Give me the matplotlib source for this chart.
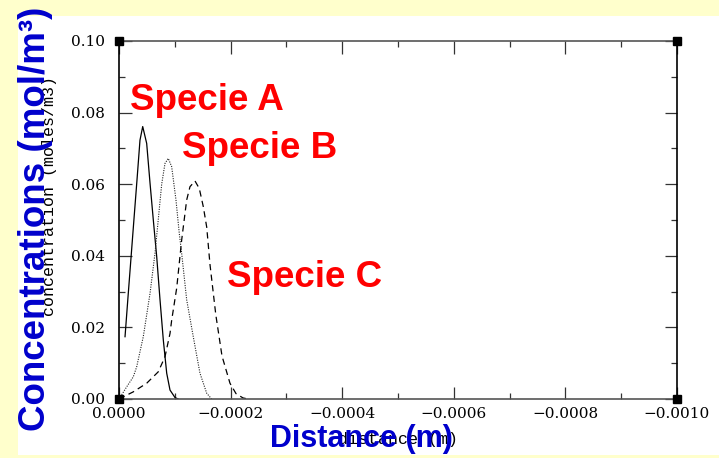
import matplotlib
matplotlib.use("Agg")
import matplotlib.pyplot as plt
from matplotlib.patches import Rectangle
from matplotlib.ticker import MultipleLocator, FuncFormatter

# ---------------------------------------------------------------------------
# Data (distance in m, concentration in mol/m3)
# ---------------------------------------------------------------------------
dist_a = [-1.08e-5, -1.61e-5, -2.15e-5, -2.69e-5, -3.23e-5, -3.76e-5, -4.25e-5,
          -4.96e-5, -5.56e-5, -6.15e-5, -6.76e-5, -7.35e-5, -7.94e-5, -8.55e-5,
          -9.14e-5, -1.004e-4, -1.06e-4]
conc_a = [0.0174, 0.0284, 0.0394, 0.0504, 0.0613, 0.0723, 0.0761,
          0.0714, 0.0603, 0.0500, 0.0397, 0.0277, 0.0165, 0.0072,
          0.0025, 0.0004, 0.0]

dist_b = [0.0, -1.38e-5, -2.56e-5, -3.17e-5, -4.35e-5, -5.56e-5, -6.45e-5,
          -7.65e-5, -8.24e-5, -8.83e-5, -9.44e-5, -1.021e-4, -1.080e-4,
          -1.123e-4, -1.213e-4, -1.331e-4, -1.451e-4, -1.572e-4, -1.661e-4]
conc_b = [0.0, 0.0034, 0.0062, 0.0090, 0.0174, 0.0295, 0.0407,
          0.0600, 0.0658, 0.0672, 0.0649, 0.0556, 0.0463,
          0.0407, 0.0277, 0.0174, 0.0072, 0.0016, 0.0]

dist_c = [0.0, -2.56e-5, -4.96e-5, -7.04e-5, -8.24e-5, -9.14e-5, -9.44e-5,
          -1.034e-4, -1.123e-4, -1.213e-4, -1.272e-4, -1.362e-4, -1.439e-4,
          -1.511e-4, -1.572e-4, -1.631e-4, -1.735e-4, -1.846e-4, -1.989e-4,
          -2.097e-4, -2.222e-4, -2.312e-4]
conc_c = [0.0, 0.0020, 0.0044, 0.0076, 0.0118, 0.0183, 0.0220,
          0.0310, 0.0444, 0.0556, 0.0593, 0.0609, 0.0588,
          0.0537, 0.0480, 0.0375, 0.0235, 0.0120, 0.0044,
          0.0015, 0.0003, 0.0]

x_ticks = [0.0, -0.0002, -0.0004, -0.0006, -0.0008, -0.0010]
y_ticks = [0.00, 0.02, 0.04, 0.06, 0.08, 0.10]
species = ["Specie A", "Specie B", "Specie C"]

W, H = 719, 458
YELLOW = "#FFFFCC"
BLUE = "#0000CC"

fig = plt.figure(figsize=(W / 100, H / 100), dpi=100, facecolor=YELLOW)
fig.patches.append(Rectangle((18 / W, 3 / H), 701 / W, 439 / H,
                             transform=fig.transFigure, facecolor="white",
                             edgecolor="none", zorder=-5))

ax = fig.add_axes([119 / W, 59 / H, 558 / W, 358 / H])
ax.set_facecolor("white")

ax.plot(dist_a, conc_a, color="black", lw=0.9, ls="-")
ax.plot(dist_b, conc_b, color="#222222", lw=0.8, ls=(0, (1, 1.2)))
ax.plot(dist_c, conc_c, color="black", lw=0.9, ls=(0, (5, 3.5)))

# black squares at the corners of the frame
ax.plot([0, 0, -0.001, -0.001], [0, 0.1, 0.1, 0], "s", color="black",
        ms=5.5, clip_on=False, zorder=5)

ax.set_xlim(0, -0.001)
ax.set_ylim(0, 0.1)
ax.set_xticks(x_ticks)
ax.set_yticks(y_ticks)
ax.xaxis.set_minor_locator(MultipleLocator(0.0001))
ax.yaxis.set_minor_locator(MultipleLocator(0.01))
ax.xaxis.set_major_formatter(FuncFormatter(
    lambda v, p: ("%.4f" % v).replace("-", "\u2212") if abs(v) > 1e-12 else "0.0000"))
ax.yaxis.set_major_formatter(FuncFormatter(lambda v, p: "%.2f" % v))

ax.tick_params(which="both", direction="in", top=True, right=True,
               color="#333333", width=0.9)
ax.tick_params(which="major", length=9)
ax.tick_params(which="minor", length=4.5)
ax.tick_params(axis="x", pad=5.5)
ax.tick_params(axis="y", pad=10)
for lab in ax.get_xticklabels() + ax.get_yticklabels():
    lab.set_fontfamily("DejaVu Serif")
    lab.set_fontsize(11)
for side in ["left", "right"]:
    ax.spines[side].set_color("black")
    ax.spines[side].set_linewidth(1.2)
for side in ["top", "bottom"]:
    ax.spines[side].set_color("#555555")
    ax.spines[side].set_linewidth(1.2)

# original small axis titles of the plot
fig.text(50 / W, 1 - 196 / H, "concentration (moles/m3)", rotation=90,
         ha="center", va="center", fontsize=12, family="Liberation Mono",
         color="black")
fig.text(398 / W, 1 - 444 / H, "distance (m)", ha="center", va="baseline",
         fontsize=12, family="Liberation Mono", color="black")

# slide annotations on top
red_pos = [(130, 110), (182, 158), (227, 287)]
for name, (px, py) in zip(species, red_pos):
    fig.text(px / W, 1 - py / H, name, ha="left", va="baseline", color="red",
             fontsize=26.5, fontweight="bold", family="Liberation Sans")

fig.text(35.5 / W, 1 - 218.5 / H, "Concentrations (mol/m\u00b3)", rotation=90,
         ha="center", va="center", color=BLUE, fontsize=26.5,
         fontweight="bold", family="Liberation Sans")
fig.text(361.5 / W, 1 - 447 / H, "Distance (m)", ha="center", va="baseline",
         color=BLUE, fontsize=22, fontweight="bold", family="Liberation Sans")

fig.savefig("out.png", dpi=100, facecolor=YELLOW)
